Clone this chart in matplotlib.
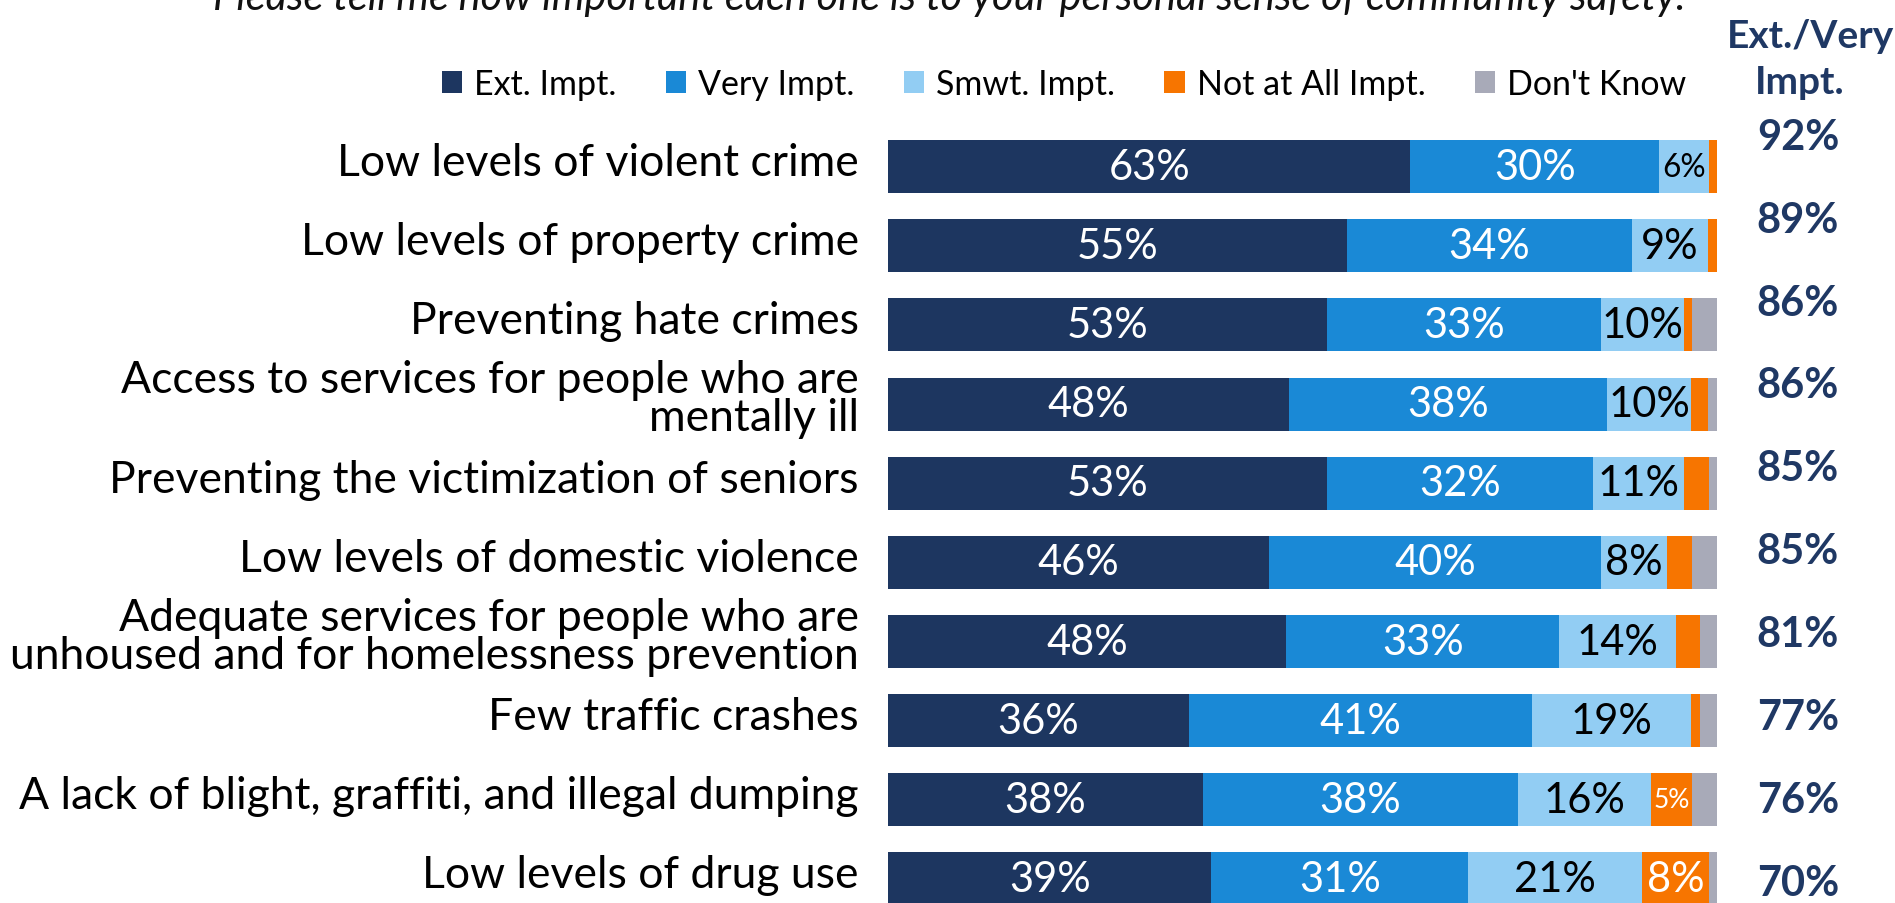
import matplotlib.pyplot as plt
import matplotlib.transforms as mtransforms
import numpy as np

plt.rcParams['font.family'] = ['Lato', 'DejaVu Sans']

title = "Please tell me how important each one is to your personal sense of community safety."
categories = [
    "Low levels of violent crime",
    "Low levels of property crime",
    "Preventing hate crimes",
    "Access to services for people who are\nmentally ill",
    "Preventing the victimization of seniors",
    "Low levels of domestic violence",
    "Adequate services for people who are\nunhoused and for homelessness prevention",
    "Few traffic crashes",
    "A lack of blight, graffiti, and illegal dumping",
    "Low levels of drug use",
]
series_names = ["Ext. Impt.", "Very Impt.", "Smwt. Impt.", "Not at All Impt.", "Don't Know"]
# unrounded shares; labels show them rounded
ext = [63, 55.4, 53, 48.4, 53, 46, 48, 36.3, 38, 39]
very = [30, 34.3, 33, 38.3, 32, 40, 33, 41.4, 38, 31]
smwt = [6, 9.2, 10, 10.2, 11, 8, 14, 19.2, 16, 21]
not_at_all = [1, 1.1, 1, 2, 3, 3, 3, 1, 5, 8]
dont_know = [0, 0, 3, 1.1, 1, 3, 2, 2.1, 3, 1]
ext_very = [92, 89, 86, 86, 85, 85, 81, 77, 76, 70]

colors = ['#1d3660', '#1a89d6', '#92cdf3', '#f77500', '#a8aab8']
label_colors = ['white', 'white', 'black', 'white', 'black']
navy = '#1f3864'

W, H = 1895, 904
fig = plt.figure(figsize=(W / 100, H / 100), dpi=100)

# main bar axes: bars span x 888..1717 px, row centres 167.7 + 79.14*i px
row0, step = 167.7, 79.14
top_px = row0 - 0.5 * step
bot_px = row0 + 9.5 * step
ax = fig.add_axes([888 / W, 1 - bot_px / H, 829 / W, (bot_px - top_px) / H])

y = np.arange(len(categories))
data = [ext, very, smwt, not_at_all, dont_know]
left = np.zeros(len(categories))
bars = []
for vals, col, lc, name in zip(data, colors, label_colors, series_names):
    vals = np.array(vals, dtype=float)
    b = ax.barh(y, vals, left=left, height=0.67, color=col, label=name)
    bars.append(b)
    for yi, (l, v) in enumerate(zip(left, vals)):
        if v >= 5:
            ax.text(l + v / 2, yi, f"{v:.0f}%", ha='center', va='center',
                    color=lc, fontsize=min(30, v * 3.8))
    left += vals

ax.set_xlim(0, 100)
ax.set_ylim(len(categories) - 0.5, -0.5)
ax.set_yticks(y, labels=categories, fontsize=32, linespacing=0.92)
ax.tick_params(axis='y', length=0, pad=21)
# labels sit a little above the bar centres in the original
lift = mtransforms.ScaledTranslation(0, 8 / 100, fig.dpi_scale_trans)
for lbl in ax.get_yticklabels():
    lbl.set_transform(lbl.get_transform() + lift)
ax.set_xticks([])
for s in ax.spines.values():
    s.set_visible(False)

# title (cut at the top edge as in the source slide)
fig.text(949 / W, 1 - 10 / H, title, ha='center', va='baseline',
         style='italic', fontsize=30, color='#111111')

# legend
fig.legend(handles=bars, loc='center', bbox_to_anchor=(1064 / W, 1 - 85 / H),
           ncol=5, frameon=False, fontsize=24.5, handlelength=0.6,
           handleheight=0.6, handletextpad=0.35, columnspacing=1.45,
           borderaxespad=0, borderpad=0)

# right column: Ext./Very Impt.
fig.text(1810 / W, 1 - 37 / H, "Ext./Very", ha='center', va='center',
         fontsize=28, fontweight='bold', color=navy)
fig.text(1800 / W, 1 - 83 / H, "Impt.", ha='center', va='center',
         fontsize=28, fontweight='bold', color=navy)
v0, vstep = 137.8, 82.86
for i, v in enumerate(ext_very):
    fig.text(1798 / W, 1 - (v0 + i * vstep) / H, f"{v}%", ha='center',
             va='center', fontsize=30, fontweight='bold', color=navy)

fig.savefig('out.png', dpi=100)
